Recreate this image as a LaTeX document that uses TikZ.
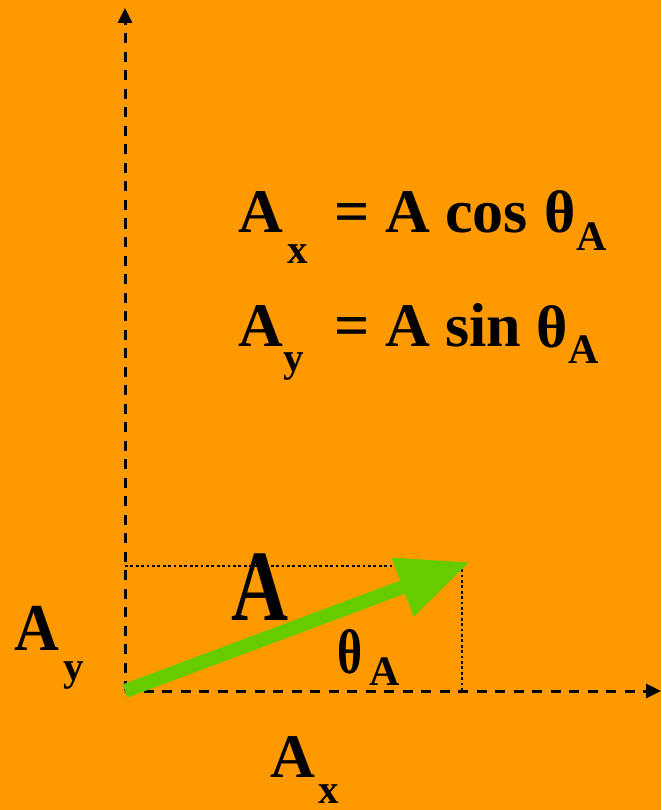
\documentclass[tikz,border=0pt]{standalone}
\usepackage{fontspec}
\setmainfont{Liberation Serif}
\usetikzlibrary{arrows.meta}
\definecolor{bgorange}{HTML}{FF9900}
\definecolor{vecgreen}{HTML}{66CC00}

\begin{document}
\begin{tikzpicture}[x=1pt, y=-1pt,
  axis/.style={line width=3pt, dash pattern=on 10pt off 8.5pt,
               -{Triangle[length=15pt, width=14pt]}},
  guide/.style={line width=2.7pt, dash pattern=on 2.7pt off 2.7pt},
  lbl/.style={inner sep=0pt, anchor=base west},
  bigtxt/.style={lbl, font=\fontsize{62}{62}\selectfont\bfseries},
  subtxt/.style={lbl, font=\fontsize{41}{41}\selectfont\bfseries},
  thtxt/.style={lbl, font=\fontsize{60}{60}\selectfont\bfseries},
  thsub/.style={lbl, font=\fontsize{42}{42}\selectfont\bfseries}]

% Background
\fill[bgorange] (0,0) rectangle (661,810);
\useasboundingbox (0,0) rectangle (661,810);

% Axes
\coordinate (origin) at (125,691);
\coordinate (ytop) at (125,8);
\coordinate (xend) at (661,691);
\coordinate (proj) at (462,566);
\coordinate (tip) at (470,562);
\draw[axis] (origin) -- (ytop);
\draw[axis] (origin) -- (xend);

% Projection guides
\draw[guide] (origin |- proj) -- (proj) -- (proj |- origin);

% Vector A
\draw[vecgreen, line width=14pt, -{Triangle[length=72pt, width=59pt]}]
     (origin) -- (tip);
\node[lbl, font=\fontsize{79}{79}\selectfont\bfseries] (veclbl) at (231,620)
     {\scalebox{1}[1.28]{A}};
\node[thtxt] (angth) at (337,673) {\scalebox{0.8}[1.05]{θ}};
\node[thsub] (angsub) at (369,685) {A};

% Components on the axes
\node[bigtxt] (ylblA) at (14,650) {\scalebox{1}[1.08]{A}};
\node[subtxt] (ylblsub) at (63,680) {y};
\node[bigtxt] (xlblA) at (270,777) {A};
\node[subtxt] (xlblsub) at (318,803) {x};

% Equation for A_x
\node[bigtxt] (eqxA) at (238,233) {A};
\node[subtxt] (eqxsub) at (287,263) {x};
\node[bigtxt] (eqxrhs) at (334,233) {= A cos};
\node[thtxt] (eqxth) at (544,233) {θ};
\node[thsub] (eqxthsub) at (576,251) {A};

% Equation for A_y
\node[bigtxt] (eqyA) at (238,346) {A};
\node[subtxt] (eqysub) at (283,371) {y};
\node[bigtxt] (eqyrhs) at (334,346) {= A sin};
\node[thtxt] (eqyth) at (536,347) {θ};
\node[thsub] (eqythsub) at (568,363) {A};

\end{tikzpicture}
\end{document}
